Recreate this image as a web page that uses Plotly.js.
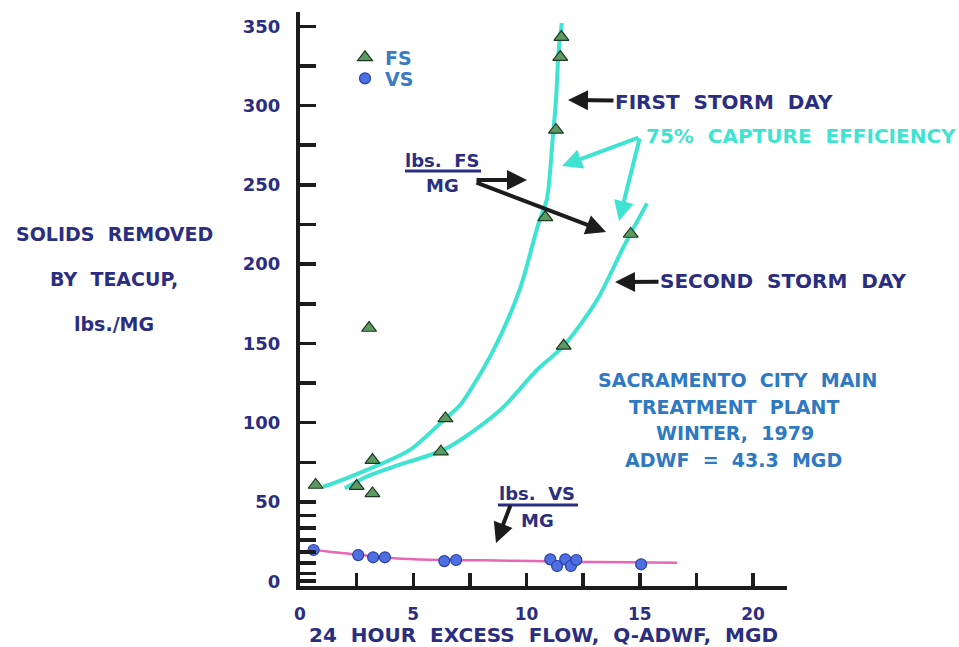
<!DOCTYPE html>
<html>
<head>
<meta charset="utf-8">
<script src="https://cdn.plot.ly/plotly-3.0.1.min.js"></script>
<style>html,body{margin:0;padding:0;background:#fff;}#chart{width:959px;height:647px;}</style>
</head>
<body>
<div id="chart"></div>
<script>
// ---- data ----
const fsX = [0.69, 2.5, 3.2, 3.2, 3.05, 6.42, 6.22, 11.64, 10.83, 11.3, 11.49, 11.54, 14.6];
const fsY = [60.7, 60.0, 55.4, 76.4, 159.7, 102.7, 81.7, 148.5, 229.5, 284.6, 330.6, 343.2, 219];

const vsX = [0.6, 2.57, 3.23, 3.75, 6.37, 6.89, 11.05, 11.35, 11.71, 11.96, 12.2, 15.06];
const vsY = [19.7, 16.5, 15.1, 15.1, 12.7, 13.4, 13.8, 9.6, 13.8, 9.6, 13.4, 10.7];

const firstDayX = [1.02, 1.46, 2.93, 4.85, 6.42, 7.07, 8.54, 9.7, 10.53, 10.9, 11.15, 11.3, 11.42, 11.56];
const firstDayY = [59.6, 61.7, 70.1, 82.8, 102.7, 111.1, 145.8, 184, 225.7, 241, 278, 303.5, 335, 352];

const secondDayX = [1.98, 2.93, 4.12, 6.47, 8.84, 10.46, 11.64, 13.11, 14.29, 15.32];
const secondDayY = [58.6, 65.9, 72.2, 83.8, 108, 133.2, 148.5, 177.3, 211, 238.3];

const vsFitX = [0.43, 1.5, 2.57, 3.5, 4.5, 6.3, 8.1, 10.3, 12.4, 14.5, 16.65];
const vsFitY = [20.1, 18.3, 16.7, 15.3, 14.2, 13.4, 13.2, 12.7, 12.2, 12.0, 11.7];

const xTickVals = [0, 2.5, 5, 7.5, 10, 12.5, 15, 17.5, 20];
const xTickText = ['0', '', '5', '', '10', '', '15', '', '20'];
const yTickVals = [0, 5, 11.5, 18.5, 26, 33.5, 41.5, 50, 75, 100, 125, 150, 175, 200, 225, 250, 275, 300, 325, 350];
const yTickText = ['0', '', '', '', '', '', '', '50', '', '100', '', '150', '', '200', '', '250', '', '300', '', '350'];

// ---- styling ----
const FONT = 'DejaVu Sans';
const NAVY = '#2b2e80';
const BLUE = '#3a7cc4';
const CYAN = '#3fe3d2';
const BLACK = '#1c1c1c';

// pixel -> data / paper helpers for annotation placement (plot area: x 300..787, y 12..586)
const X0 = 300, PW = 487, YB = 586, PH = 574;
const XS = PW / 21.5, YS = PH / 362;
const dx = px => (px - X0) / XS;
const dy = py => (YB - py) / YS - 3;
const qx = px => (px - X0) / PW;
const qy = py => (YB - py) / PH;

function txt(text, px, py, size, color) {
  return {x: qx(px), y: qy(py), xref: 'paper', yref: 'paper', text: text, showarrow: false,
          xanchor: 'center', yanchor: 'middle',
          font: {family: FONT, size: size, color: color, weight: 700}};
}
function arrow(tx, ty, hx, hy, color, w) {
  return {x: dx(hx), y: dy(hy), xref: 'x', yref: 'y', ax: tx - hx, ay: ty - hy,
          text: '', showarrow: true, arrowhead: 2, arrowsize: 1, arrowwidth: w, arrowcolor: color};
}
function labelArrow(text, cx, cy, hx, hy, size, color, acolor) {
  return {x: dx(hx), y: dy(hy), xref: 'x', yref: 'y', ax: cx - hx, ay: cy - hy,
          text: text, showarrow: true, arrowhead: 2, arrowsize: 1, arrowwidth: 4, arrowcolor: acolor,
          font: {family: FONT, size: size, color: color, weight: 700}};
}

const traces = [
  {x: firstDayX, y: firstDayY, mode: 'lines', line: {color: CYAN, width: 4, shape: 'spline', smoothing: 0.8},
   showlegend: false, hoverinfo: 'skip'},
  {x: secondDayX, y: secondDayY, mode: 'lines', line: {color: CYAN, width: 4, shape: 'spline', smoothing: 0.8},
   showlegend: false, hoverinfo: 'skip'},
  {x: vsFitX, y: vsFitY, mode: 'lines', line: {color: '#e866b4', width: 2.5, shape: 'spline'},
   showlegend: false, hoverinfo: 'skip'},
  {x: fsX, y: fsY, mode: 'markers', name: 'FS', legend: 'legend',
   marker: {symbol: 'triangle-up', size: 13, color: '#5c9a62', line: {color: '#1d3b22', width: 1.2}}},
  {x: vsX, y: vsY, mode: 'markers', name: 'VS', legend: 'legend2',
   marker: {symbol: 'circle', size: 11, color: '#4d6fe2', line: {color: '#2a40a8', width: 1.2}}}
];

const annotations = [
  // y-axis title (horizontal, three lines)
  txt('SOLIDS  REMOVED', 114, 234, 19, NAVY),
  txt('BY  TEACUP,', 114, 279, 19, NAVY),
  txt('lbs./MG', 114, 324, 19, NAVY),
  // storm day labels
  labelArrow('FIRST  STORM  DAY', 724, 102, 568, 100, 20, NAVY, BLACK),
  labelArrow('SECOND  STORM  DAY', 783, 281, 615, 282, 20, NAVY, BLACK),
  // capture efficiency
  txt('75%  CAPTURE  EFFICIENCY', 801, 136, 20, CYAN),
  arrow(640, 137, 562, 166, CYAN, 4),
  arrow(640, 137, 619, 221, CYAN, 4),
  // lbs FS / MG
  txt('lbs.  FS', 442, 160, 18, NAVY),
  txt('MG', 442, 186, 18, NAVY),
  arrow(475, 180, 527, 180, BLACK, 4),
  arrow(475, 182, 606, 232, BLACK, 4),
  // lbs VS / MG
  txt('lbs.  VS', 537, 493, 18, NAVY),
  txt('MG', 537, 520, 18, NAVY),
  arrow(511, 504, 496, 543, BLACK, 4),
  // plant info
  txt('SACRAMENTO  CITY  MAIN', 737, 380, 19, '#2f78c2'),
  txt('TREATMENT  PLANT', 734, 407, 19, '#2f78c2'),
  txt('WINTER,  1979', 735, 433, 19, '#2f78c2'),
  txt('ADWF  =  43.3  MGD', 733, 460, 19, '#2f78c2')
];

const shapes = [
  {type: 'line', xref: 'x', yref: 'y', x0: dx(405), x1: dx(481), y0: dy(171), y1: dy(171),
   line: {color: NAVY, width: 3}},
  {type: 'line', xref: 'x', yref: 'y', x0: dx(498), x1: dx(578), y0: dy(505), y1: dy(505),
   line: {color: NAVY, width: 3}}
];

const legendFont = {family: FONT, size: 19, color: BLUE, weight: 700};
const layout = {
  width: 959, height: 647,
  margin: {l: 300, r: 172, t: 12, b: 61, pad: 0},
  paper_bgcolor: '#ffffff', plot_bgcolor: '#ffffff',
  showlegend: true,
  legend: {x: qx(345), y: qy(38.5), xanchor: 'left', yanchor: 'top', bgcolor: 'rgba(0,0,0,0)',
           font: legendFont, itemwidth: 30},
  legend2: {x: qx(345), y: qy(59.5), xanchor: 'left', yanchor: 'top', bgcolor: 'rgba(0,0,0,0)',
           font: legendFont, itemwidth: 30},
  xaxis: {
    range: [0, 21.5], showgrid: false, zeroline: false,
    showline: true, linewidth: 4, linecolor: BLACK,
    ticks: 'inside', ticklen: 13, tickwidth: 3.5, tickcolor: BLACK,
    tickmode: 'array', tickvals: xTickVals, ticktext: xTickText,
    ticklabelstandoff: 10,
    tickfont: {family: FONT, size: 17, color: NAVY, weight: 700},
    title: {text: '24  HOUR  EXCESS  FLOW,  Q-ADWF,  MGD', standoff: 6,
            font: {family: FONT, size: 20, color: NAVY, weight: 700}}
  },
  yaxis: {
    range: [-3, 359], showgrid: false, zeroline: false,
    showline: true, linewidth: 4, linecolor: BLACK,
    ticks: 'inside', ticklen: 16, tickwidth: 3.5, tickcolor: BLACK,
    tickmode: 'array', tickvals: yTickVals, ticktext: yTickText,
    ticklabelstandoff: 12,
    tickfont: {family: FONT, size: 18, color: NAVY, weight: 700}
  },
  annotations: annotations,
  shapes: shapes
};

Plotly.newPlot('chart', traces, layout, {displayModeBar: false, staticPlot: true});
</script>
</body>
</html>
